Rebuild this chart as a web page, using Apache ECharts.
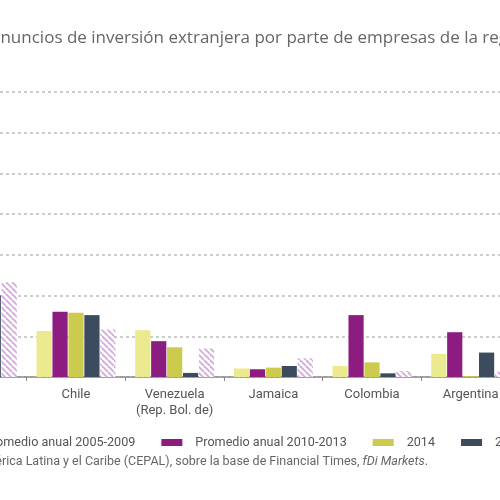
<!DOCTYPE html>
<html><head><meta charset="utf-8">
<script src="https://cdn.jsdelivr.net/npm/echarts@6/dist/echarts.min.js"></script>
<style>html,body{margin:0;padding:0;background:#fff}#c{width:500px;height:500px}</style>
</head><body><div id="c"></div>
<script>
const categories = ['México', 'Chile', 'Venezuela\n(Rep. Bol. de)', 'Jamaica', 'Colombia', 'Argentina'];
const seriesNames = ['Promedio anual 2005-2009', 'Promedio anual 2010-2013', '2014', '2015', '2016'];
const avg2005_2009 = [1.8, 1.13, 1.15, 0.21, 0.27, 0.57];
const avg2010_2013 = [3.0, 1.60, 0.88, 0.19, 1.52, 1.10];
const y2014 = [2.5, 1.58, 0.73, 0.23, 0.36, 0.02];
const y2015 = [2.0, 1.52, 0.10, 0.27, 0.09, 0.60];
const y2016 = [2.33, 1.17, 0.70, 0.46, 0.15, 0.13];

function hatch() {
  const c = document.createElement('canvas');
  c.width = 6; c.height = 6;
  const g = c.getContext('2d');
  g.fillStyle = '#ffffff'; g.fillRect(0, 0, 6, 6);
  g.strokeStyle = '#d3a9dc'; g.lineWidth = 1.8;
  for (let k = -6; k <= 12; k += 6) {
    g.beginPath(); g.moveTo(k, 0); g.lineTo(k + 6, 6); g.stroke();
  }
  return c;
}
const colors = ['#ecea8e', '#8c1c80', '#cccb4e', '#3d4b5f', {image: hatch(), repeat: 'repeat'}];
const values = [avg2005_2009, avg2010_2013, y2014, y2015, y2016];

const chart = echarts.init(document.getElementById('c'));
chart.setOption({
  animation: false,
  textStyle: {fontFamily: 'Roboto'},
  grid: {left: -72, right: -20, top: 92, bottom: 123, containLabel: false, outerBoundsMode: 'none'},
  xAxis: {
    type: 'category', data: categories,
    axisLine: {lineStyle: {color: '#8a8a8a', width: 1.5}},
    axisTick: {show: true, length: 4, lineStyle: {color: '#8a8a8a'}},
    axisLabel: {interval: 0, color: '#555', fontSize: 13, margin: 10, lineHeight: 16, fontFamily: 'Roboto'}
  },
  yAxis: {
    type: 'value', min: 0, max: 7, interval: 1,
    axisLabel: {show: false}, axisLine: {show: false}, axisTick: {show: false},
    splitLine: {lineStyle: {color: '#bdbdbd', type: [3, 3], width: 1.5}}
  },
  legend: {
    left: -55, top: 431, width: 1000, itemWidth: 21, itemHeight: 7, itemGap: 26,
    icon: 'rect',
    textStyle: {color: '#555', fontSize: 12.6, fontFamily: 'Roboto', padding: [0, 0, 0, 8]},
    data: seriesNames
  },
  graphic: [
    {type: 'text', left: -9, top: 30, style: {text: 'anuncios de inversión extranjera por parte de empresas de la región', fill: '#666', font: '17px "Open Sans"'}},
    {type: 'text', right: 72, top: 455, style: {
      text: 'Fuente: Comisión Económica para América Latina y el Caribe (CEPAL), sobre la base de Financial Times, {i|fDi Markets}.',
      fill: '#666', font: '12.5px Roboto',
      rich: {i: {fontStyle: 'italic', fill: '#666', fontSize: 12.5, fontFamily: 'Roboto'}}
    }}
  ],
  series: seriesNames.map((n, i) => ({
    name: n, type: 'bar', data: values[i],
    barCategoryGap: '20%', barGap: '5%',
    itemStyle: {color: colors[i]}
  }))
});
</script></body></html>
